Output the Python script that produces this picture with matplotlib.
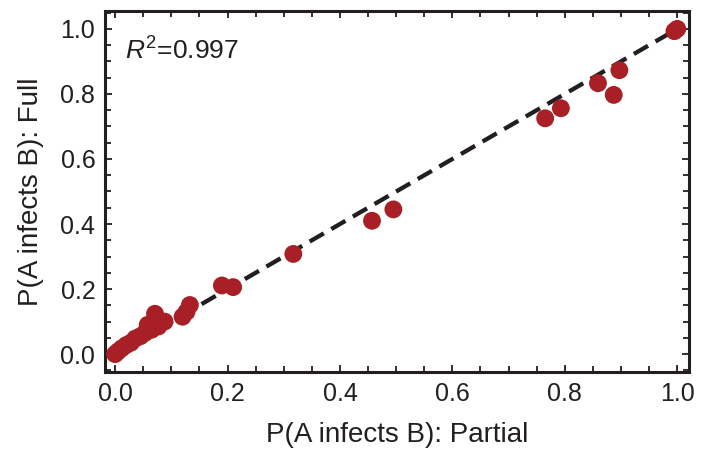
import matplotlib
matplotlib.use("Agg")
import matplotlib.pyplot as plt
from matplotlib.ticker import MultipleLocator

plt.rcParams["font.family"] = ["Liberation Sans", "DejaVu Sans"]
plt.rcParams["mathtext.fontset"] = "custom"
plt.rcParams["mathtext.rm"] = "Liberation Sans"
plt.rcParams["mathtext.it"] = "Liberation Sans:italic"

# ---- data: infection probability, partial vs full model ----
partial = [0.0, 0.005, 0.012, 0.02, 0.028, 0.036, 0.045, 0.053, 0.058, 0.065,
           0.071, 0.077, 0.088, 0.12, 0.127, 0.133, 0.19, 0.21, 0.317, 0.457,
           0.495, 0.765, 0.793, 0.859, 0.887, 0.897, 0.995, 1.0]
full = [0.0, 0.008, 0.018, 0.028, 0.035, 0.048, 0.055, 0.065, 0.09, 0.075,
        0.124, 0.085, 0.1, 0.115, 0.13, 0.151, 0.211, 0.206, 0.308, 0.41,
        0.445, 0.725, 0.756, 0.833, 0.797, 0.873, 0.993, 1.0]
r2 = 0.997

red = "#A81F25"
ink = "#231F20"

fig = plt.figure(figsize=(7.06, 4.74), dpi=100)
ax = fig.add_axes([0.1487, 0.2152, 0.8273, 0.7616])

ax.plot([0, 1], [0, 1], color=ink, lw=3.1, dashes=(3.8, 2.0), zorder=2)
ax.scatter(partial, full, s=165, color=red, edgecolors="none", zorder=3)

ax.set_xlim(-0.018, 1.021)
ax.set_ylim(-0.055, 1.055)
for a in (ax.xaxis, ax.yaxis):
    a.set_major_locator(MultipleLocator(0.2))
    a.set_minor_locator(MultipleLocator(0.05))
ax.xaxis.set_major_formatter(lambda v, p: f"{v:.1f}")
ax.yaxis.set_major_formatter(lambda v, p: f"{v:.1f}")

ax.tick_params(which="both", direction="in", top=True, right=True,
               width=1.3, color=ink, labelcolor=ink, labelsize=18, pad=7)
ax.tick_params(which="major", length=5)
ax.tick_params(which="minor", length=4)
for s in ax.spines.values():
    s.set_linewidth(2.2)
    s.set_color(ink)

ax.set_xlabel("P(A infects B): Partial", fontsize=20, labelpad=12, color=ink)
ax.set_ylabel("P(A infects B): Full", fontsize=20, labelpad=12, color=ink)

ax.text(0.018, 0.905, f"$R^2$={r2}", fontsize=19, color=ink,
        ha="left", va="baseline")

fig.savefig("out.png", dpi=100)
